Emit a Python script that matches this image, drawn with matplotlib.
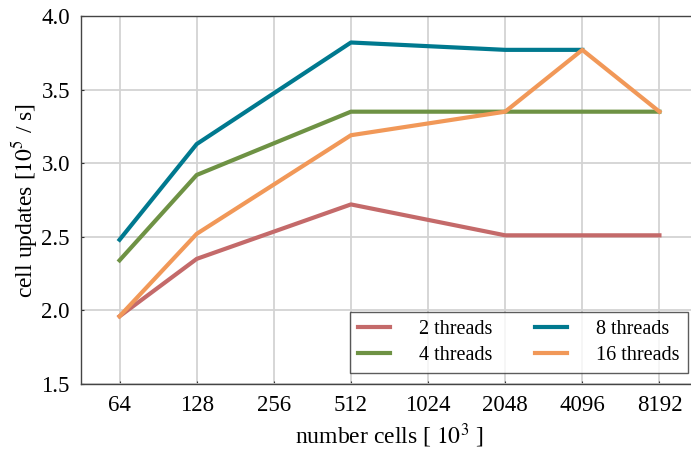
import matplotlib
matplotlib.use("Agg")
import numpy as np
from matplotlib import pyplot as plt

plt.rcParams['font.family'] = ['Liberation Serif', 'DejaVu Serif']
plt.rcParams['mathtext.fontset'] = 'stix'

# data
x_labels = ['64', '128', '256', '512', '1024', '2048', '4096', '8192']
cells = [64, 128, 512, 2048, 4096, 8192]

t2 = [1.96, 2.35, 2.72, 2.51, 2.51, 2.51]
t4 = [2.34, 2.92, 3.35, 3.35, 3.35, 3.35]
t8 = [2.48, 3.13, 3.82, 3.77, 3.77]
t16 = [1.96, 2.52, 3.19, 3.35, 3.77, 3.35]

col2 = '#c46a6a'
col4 = '#6e9244'
col8 = '#00798f'
col16 = '#f19858'

fig = plt.figure(figsize=(6.91, 4.51), dpi=100)
ax = fig.add_axes([81/691, 67/451, 617/691, 368/451])

pos = [x_labels.index(str(c)) for c in cells]
ax.plot(pos, t2, color=col2, lw=3, label='2 threads')
ax.plot(pos, t4, color=col4, lw=3, label='4 threads')
ax.plot(pos[:len(t8)], t8, color=col8, lw=3, label='8 threads')
ax.plot(pos, t16, color=col16, lw=3, label='16 threads')

ax.set_xlim(-0.5, 7.5)
ax.set_ylim(1.5, 4.0)
ax.set_xticks(range(len(x_labels)))
ax.set_xticklabels(x_labels)
ax.set_yticks(np.arange(1.5, 4.01, 0.5))
ax.set_yticklabels(['%.1f' % v for v in np.arange(1.5, 4.01, 0.5)])
ax.grid(True, color='#d3d3d3', lw=1.3)
ax.set_axisbelow(True)
ax.tick_params(direction='in', length=2, labelsize=16.5, pad=8, colors='#333333', labelcolor='black')
for s in ax.spines.values():
    s.set_color('#444444')
    s.set_linewidth(1.0)

ax.set_xlabel(r'number cells [ $10^3$ ]', fontsize=17, labelpad=4)
ax.set_ylabel(r'cell updates [$10^5$ / s]', fontsize=17, labelpad=1)

leg = ax.legend(ncol=2, loc='lower right', fontsize=14.5, frameon=True, fancybox=False,
                handlelength=1.6, handletextpad=1.45, columnspacing=2.1,
                labelspacing=0.35, borderaxespad=0,
                bbox_to_anchor=(688/691, 78/451), bbox_transform=fig.transFigure)
leg.get_frame().set_edgecolor('#333333')
leg.get_frame().set_linewidth(1.0)

plt.savefig('out.png', dpi=100)
